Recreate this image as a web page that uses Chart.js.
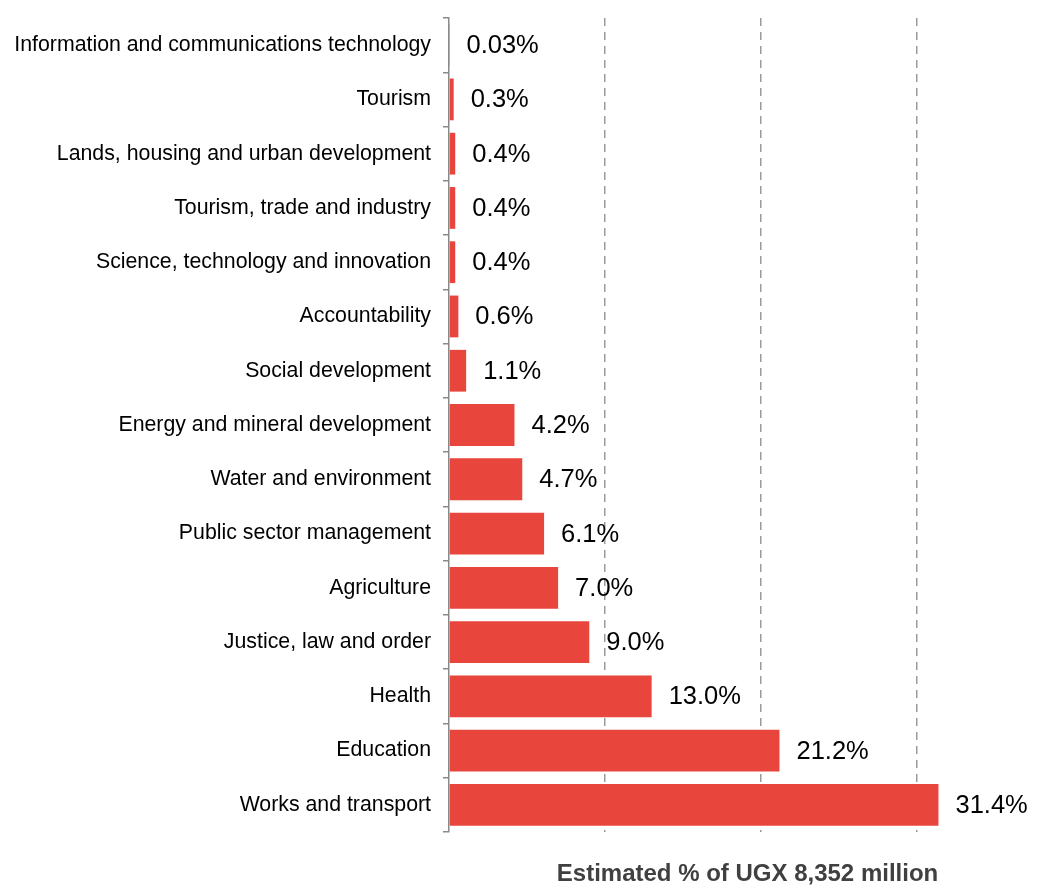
<!DOCTYPE html>
<html>
<head>
<meta charset="utf-8">
<script src="https://cdn.jsdelivr.net/npm/chart.js@4.4.1/dist/chart.umd.min.js"></script>
<style>
  html, body { margin: 0; padding: 0; background: #ffffff; }
  #wrap { width: 1058px; height: 886px; }
</style>
</head>
<body>
<div id="wrap"><canvas id="c" width="1058" height="886"></canvas></div>
<script>
const categories = [
  "Information and communications technology",
  "Tourism",
  "Lands, housing and urban development",
  "Tourism, trade and industry",
  "Science, technology and innovation",
  "Accountability",
  "Social development",
  "Energy and mineral development",
  "Water and environment",
  "Public sector management",
  "Agriculture",
  "Justice, law and order",
  "Health",
  "Education",
  "Works and transport"
];
const shares = [0.03, 0.3, 0.4, 0.4, 0.4, 0.6, 1.1, 4.2, 4.7, 6.1, 7.0, 9.0, 13.0, 21.2, 31.4];
const shareLabels = ["0.03%", "0.3%", "0.4%", "0.4%", "0.4%", "0.6%", "1.1%", "4.2%", "4.7%", "6.1%", "7.0%", "9.0%", "13.0%", "21.2%", "31.4%"];
const gridValues = [10, 20, 30];
const axisTitle = "Estimated % of UGX 8,352 million";

const FONT = "'Liberation Sans', Arial, sans-serif";

const valueLabelPlugin = {
  id: 'valueLabels',
  afterDatasetsDraw(chart) {
    const ctx = chart.ctx;
    const meta = chart.getDatasetMeta(0);
    ctx.save();
    ctx.font = "25.5px " + FONT;
    ctx.fillStyle = "#000000";
    ctx.textAlign = "left";
    ctx.textBaseline = "middle";
    meta.data.forEach((bar, i) => {
      ctx.fillText(shareLabels[i], bar.x + 17, bar.y + 1);
    });
    ctx.restore();
  }
};

new Chart(document.getElementById('c'), {
  type: 'bar',
  data: {
    labels: categories,
    datasets: [{
      data: shares,
      backgroundColor: '#E8453C',
      borderWidth: 0,
      barPercentage: 0.77,
      categoryPercentage: 1.0
    }]
  },
  options: {
    indexAxis: 'y',
    responsive: false,
    animation: false,
    devicePixelRatio: 1,
    layout: { padding: { top: 18, right: 12, left: 0, bottom: 0 } },
    plugins: {
      legend: { display: false },
      tooltip: { enabled: false }
    },
    scales: {
      x: {
        min: 0,
        max: 38.3,
        afterBuildTicks(scale) {
          scale.ticks = [0].concat(gridValues).map(v => ({ value: v }));
        },
        ticks: { display: false },
        border: { display: false, dash: [8, 6] },
        grid: {
          drawTicks: false,
          lineWidth: 1.5,
          color: ctx => (ctx.tick && ctx.tick.value === 0) ? 'rgba(0,0,0,0)' : '#9a9a9a'
        },
        title: {
          display: true,
          text: axisTitle,
          color: '#404040',
          font: { family: FONT, size: 24, weight: 'bold', lineHeight: 1.0 },
          padding: { top: 30, bottom: 0 }
        }
      },
      y: {
        afterFit(scale) {
          scale.width = 449;
          scale.paddingTop = 0;
          scale.paddingBottom = 0;
        },
        border: { display: true, color: '#8a8a8a', width: 1.5 },
        grid: {
          offset: true,
          drawOnChartArea: false,
          drawTicks: true,
          tickLength: 6,
          color: '#8a8a8a',
          lineWidth: 1.5
        },
        ticks: {
          color: '#000000',
          padding: 12,
          font: { family: FONT, size: 21.3 }
        }
      }
    }
  },
  plugins: [valueLabelPlugin]
});
</script>
</body>
</html>
